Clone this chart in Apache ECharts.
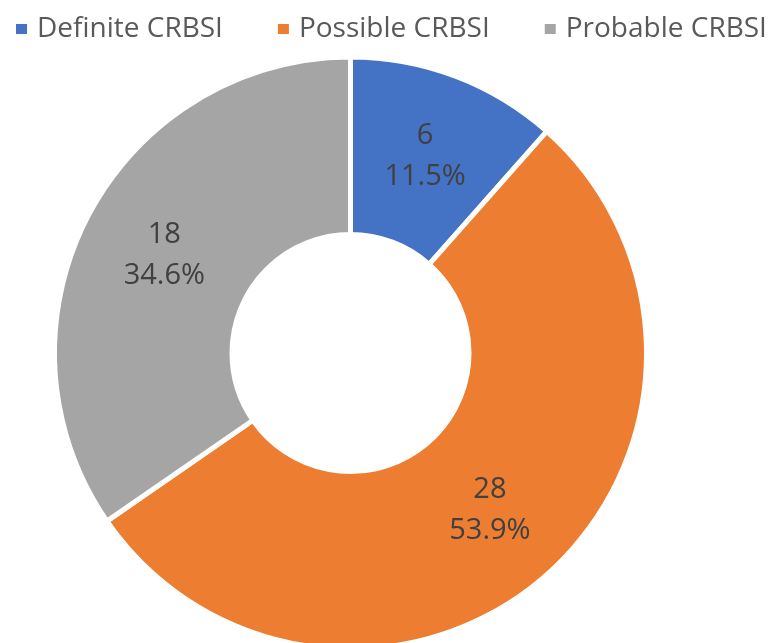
<!DOCTYPE html>
<html>
<head>
<meta charset="utf-8">
<script src="https://cdn.jsdelivr.net/npm/echarts@6/dist/echarts.min.js"></script>
<style>
html,body{margin:0;padding:0;background:#fff;}
#chart{width:771px;height:643px;}
</style>
</head>
<body>
<div id="chart"></div>
<script>
const categories = ['Definite CRBSI', 'Possible CRBSI', 'Probable CRBSI'];
const counts = [6, 28, 18];
const percentLabels = ['11.5%', '53.9%', '34.6%'];
const colors = ['#4472C4', '#ED7D31', '#A5A5A5'];

const chart = echarts.init(document.getElementById('chart'));
chart.setOption({
  animation: false,
  color: colors,
  legend: {
    left: 14,
    top: 15,
    width: 900,
    padding: 0,
    icon: 'rect',
    itemWidth: 13,
    itemHeight: 12,
    itemGap: 53,
    textStyle: { fontFamily: 'Open Sans', fontSize: 28, color: '#595959', padding: [0, 0, 0, 4] },
    data: categories
  },
  series: [{
    type: 'pie',
    center: [350.5, 353],
    radius: [118.5, 296],
    startAngle: 90,
    clockwise: true,
    avoidLabelOverlap: false,
    itemStyle: { borderColor: '#ffffff', borderWidth: 5 },
    label: {
      show: true,
      position: 'inside',
      fontFamily: 'Open Sans',
      fontSize: 29,
      lineHeight: 41,
      color: '#404040',
      formatter: function (p) { return counts[p.dataIndex] + '\n' + percentLabels[p.dataIndex]; }
    },
    labelLine: { show: false },
    emphasis: { disabled: true },
    data: categories.map((c, i) => ({ name: c, value: counts[i] }))
  }]
});
</script>
</body>
</html>
